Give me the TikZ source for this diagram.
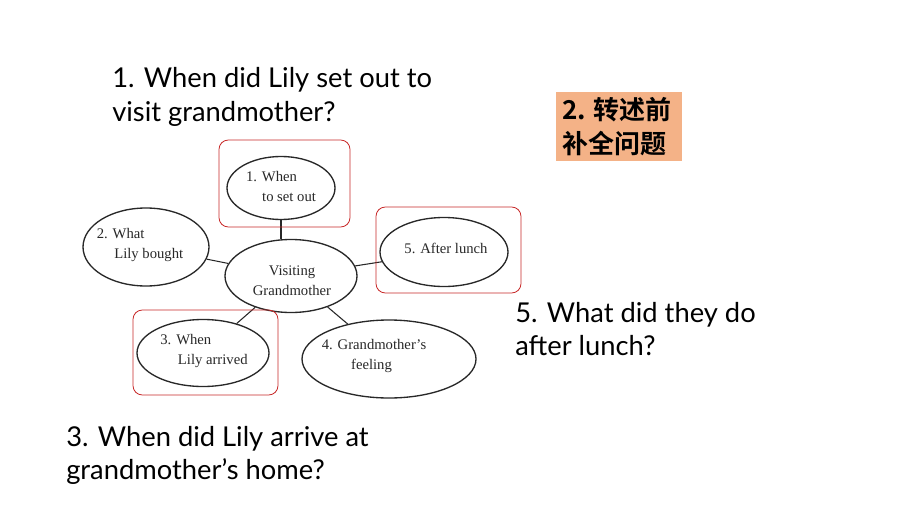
\documentclass[tikz,border=0pt]{standalone}
\usepackage{fontspec}
\setmainfont{Liberation Serif}
\newfontfamily\comicfont{Lato}
\newfontfamily\cjk{Noto Sans CJK SC}[BoldFont={* Bold}]
\usetikzlibrary{shapes.geometric}
\definecolor{boxorange}{RGB}{244,178,135}
\definecolor{redline}{RGB}{200,40,40}
\definecolor{inkgray}{RGB}{40,40,40}
\begin{document}
\begin{tikzpicture}[x=0.75pt,y=-0.75pt,
  bubble/.style={draw=inkgray, ellipse, line width=1pt, inner sep=0pt},
  btext/.style={font=\fontsize{11}{13}\selectfont, align=left, inner sep=0pt, text=inkgray},
  link/.style={draw=inkgray, line width=0.8pt},
  redbox/.style={draw=redline, rounded corners=7pt, line width=0.6pt},
  question/.style={anchor=base west, inner sep=0pt, font=\comicfont\fontsize{20.5}{24}\selectfont}]
\fill[white] (0,0) rectangle (920,517);
\useasboundingbox (0,0) rectangle (920,517);

% ellipses
\node[bubble, minimum width=0.75*108pt, minimum height=0.75*63pt] (e1) at (281,188) {};
\node[bubble, minimum width=0.75*126pt, minimum height=0.75*78pt] (e2) at (146,247) {};
\node[bubble, minimum width=0.75*132pt, minimum height=0.75*73pt] (c) at (291,276) {};
\node[bubble, minimum width=0.75*128pt, minimum height=0.75*69pt] (e5) at (444,252) {};
\node[bubble, minimum width=0.75*132pt, minimum height=0.75*67pt] (e3) at (203,353) {};
\node[bubble, minimum width=0.75*174pt, minimum height=0.75*78pt] (e4) at (389,359) {};

% ellipse texts
\node[btext] (t1) at (281,186) {1. When\\[2pt]\hspace{1.1em}to set out};
\node[btext] (t2) at (140,245) {2. What\\[2pt]\hspace{1.2em}Lily bought};
\node[btext, align=center] (tc) at (292,281) {Visiting\\[2pt]Grandmother};
\node[btext] (t5) at (446,248) {5. After lunch};
\node[btext] (t3) at (204,351) {3. When\\[2pt]\hspace{1.2em}Lily arrived};
\node[btext] (t4) at (374,356) {4. Grandmother’s\\[2pt]\hspace{2em}feeling};

% connectors
\draw[link] (e1.south) -- (e1.south |- c.north);
\draw[link] (e2) -- (c);
\draw[link] (c) -- (e5);
\draw[link] (c) -- (e3);
\draw[link] (c) -- (e4);

% red boxes
\node[redbox, minimum width=0.75*131pt, minimum height=0.75*87pt] (r1) at (284.5,183.5) {};
\node[redbox, minimum width=0.75*145pt, minimum height=0.75*86pt] (r5) at (448.5,250) {};
\node[redbox, minimum width=0.75*145pt, minimum height=0.75*85pt] (r3) at (205.5,352.5) {};

% questions
\node[question] (q1a) at (112,88) {1. When did Lily set out to};
\node[question] (q1b) at (112,121) {visit grandmother?};
\node[question] (q5a) at (515,322) {5. What did they do};
\node[question] (q5b) at (515,355) {after lunch?};
\node[question] (q3a) at (66,446) {3. When did Lily arrive at};
\node[question] (q3b) at (66,479) {grandmother’s home?};

% orange label
\node[fill=boxorange, minimum width=0.75*126pt, minimum height=0.75*69pt, inner sep=0pt] (lbl) at (619,126.5) {};
\node[font=\cjk\bfseries\fontsize{19.5}{25}\selectfont, align=left, inner sep=0pt] (lbltext) at (617,126.5) {2. 转述前\\补全问题};
\end{tikzpicture}
\end{document}
